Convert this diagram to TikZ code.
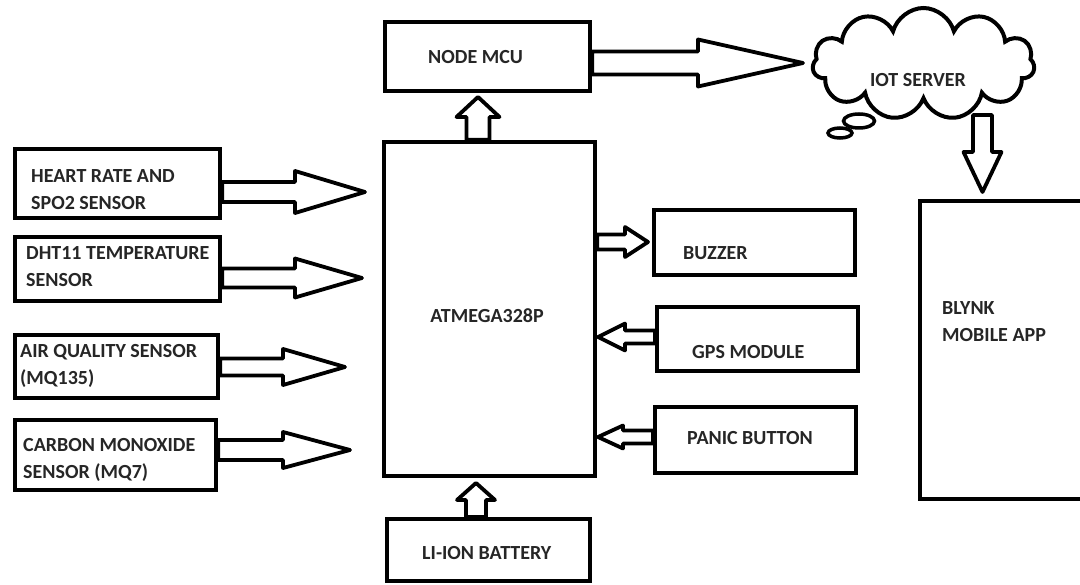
\documentclass[tikz,border=0pt]{standalone}
\usepackage{fontspec}
\setmainfont{Carlito}
\usetikzlibrary{shapes.symbols,shapes.geometric,calc}
\definecolor{txt}{RGB}{38,38,38}
\tikzset{
  box/.style={draw=black, line width=4.2pt, fill=white, rectangle, inner sep=0pt},
  lbl/.style={text=txt, font=\fontsize{20}{27}\selectfont\bfseries, align=left, inner sep=0pt},
  blk/.style={draw=black, line width=3.8pt, fill=white, line join=round},
}
\newcommand\blockarrow[5]{%
  \draw[blk] let \p1=#1, \p2=#2, \n1={atan2(\y2-\y1,\x2-\x1)}, \n2={veclen(\x2-\x1,\y2-\y1)} in
  ([shift={(\p1)},rotate=\n1]0,#3) -- ([shift={(\p1)},rotate=\n1]{\n2-#5},#3)
  -- ([shift={(\p1)},rotate=\n1]{\n2-#5},#4) -- ([shift={(\p1)},rotate=\n1]\n2,0)
  -- ([shift={(\p1)},rotate=\n1]{\n2-#5},-#4) -- ([shift={(\p1)},rotate=\n1]{\n2-#5},-#3)
  -- ([shift={(\p1)},rotate=\n1]0,-#3) -- cycle;}
\begin{document}
\begin{tikzpicture}[x=1pt,y=-1pt]
\clip (0,0) rectangle (1080,585);
\fill[white] (0,0) rectangle (1080,585);
% boxes
\node[box, minimum width=205, minimum height=69] (hr)  at (117.5,183.5) {};
\node[box, minimum width=205, minimum height=64] (dht) at (117.5,269) {};
\node[box, minimum width=203, minimum height=63] (aq)  at (116.5,366.5) {};
\node[box, minimum width=201, minimum height=70] (co)  at (115.5,455) {};
\node[box, minimum width=205, minimum height=69] (mcu) at (487.5,56.5) {};
\node[box, minimum width=211, minimum height=334] (atm) at (489.5,309) {};
\node[box, minimum width=203, minimum height=62] (bat) at (488.5,550) {};
\node[box, minimum width=201, minimum height=65] (buz) at (754.5,242.5) {};
\node[box, minimum width=201, minimum height=64] (gps) at (757.5,339) {};
\node[box, minimum width=201, minimum height=66] (pan) at (755.5,440) {};
\node[box, minimum width=200, minimum height=298] (bly) at (1020,350) {};
% thought bubbles and cloud
\node[draw, line width=3.5pt, ellipse, minimum width=24, minimum height=10, inner sep=0pt, fill=white] (bub2) at (840,133) {};
\node[draw, line width=3.5pt, ellipse, minimum width=31, minimum height=14, inner sep=0pt, fill=white] (bub1) at (859,121) {};
\node[draw, line width=4pt, cloud, cloud puffs=11, cloud ignores aspect, minimum width=222, minimum height=112, fill=white, inner sep=0pt] (cloud) at (923.5,64) {};
% labels
\node[lbl, anchor=west] (hrt)  at (31,190) {HEART RATE AND\\SPO2 SENSOR};
\node[lbl, anchor=west] (dhtt) at (26,266.5) {DHT11 TEMPERATURE\\SENSOR};
\node[lbl, anchor=west] (aqt)  at (20,366) {AIR QUALITY SENSOR\\(MQ135)};
\node[lbl, anchor=west] (cot)  at (23,460) {CARBON MONOXIDE\\SENSOR (MQ7)};
\node[lbl, anchor=west] (mcut) at (428,57) {NODE MCU};
\node[lbl] (atmt) at (487,316) {ATMEGA328P};
\node[lbl, anchor=west] (batt) at (422,553) {LI-ION BATTERY};
\node[lbl, anchor=west] (buzt) at (683,253) {BUZZER};
\node[lbl, anchor=west] (gpst) at (692,352) {GPS MODULE};
\node[lbl, anchor=west] (pant) at (687,438) {PANIC BUTTON};
\node[lbl, anchor=west] (blyt) at (942,322) {BLYNK\\MOBILE APP};
\node[lbl] (cloudt) at (918,80) {IOT SERVER};
% arrow tips
\coordinate (t1) at (365,192);
\coordinate (t2) at (362,278);
\coordinate (t3) at (345,367);
\coordinate (t4) at (350,450);
\coordinate (tm) at (803,63);
\coordinate (tu) at (478,97);
\coordinate (tb) at (476,483);
\coordinate (tz) at (648,242);
\coordinate (tg) at (598,337);
\coordinate (tp) at (598,437);
\coordinate (cb) at (982.5,115);
\coordinate (td) at (982.5,192);
% arrows
\blockarrow{(hr.east |- t1)}{(t1)}{10}{21}{70}
\blockarrow{(dht.east |- t2)}{(t2)}{9.5}{19.5}{67}
\blockarrow{(aq.east |- t3)}{(t3)}{8.5}{18}{62}
\blockarrow{(co.east |- t4)}{(t4)}{10}{18}{67}
\blockarrow{(mcu.east |- tm)}{(tm)}{11.5}{23.5}{105}
\blockarrow{(atm.north -| tu)}{(tu)}{11.5}{21.5}{20}
\blockarrow{(bat.north -| tb)}{(tb)}{10}{19}{17}
\blockarrow{(atm.east |- tz)}{(tz)}{7.5}{15}{23}
\blockarrow{(gps.west |- tg)}{(tg)}{6.5}{13.5}{27}
\blockarrow{(pan.west |- tp)}{(tp)}{6.5}{11.5}{25}
\blockarrow{(cb)}{(td)}{9.5}{19}{40}
\end{tikzpicture}
\end{document}
